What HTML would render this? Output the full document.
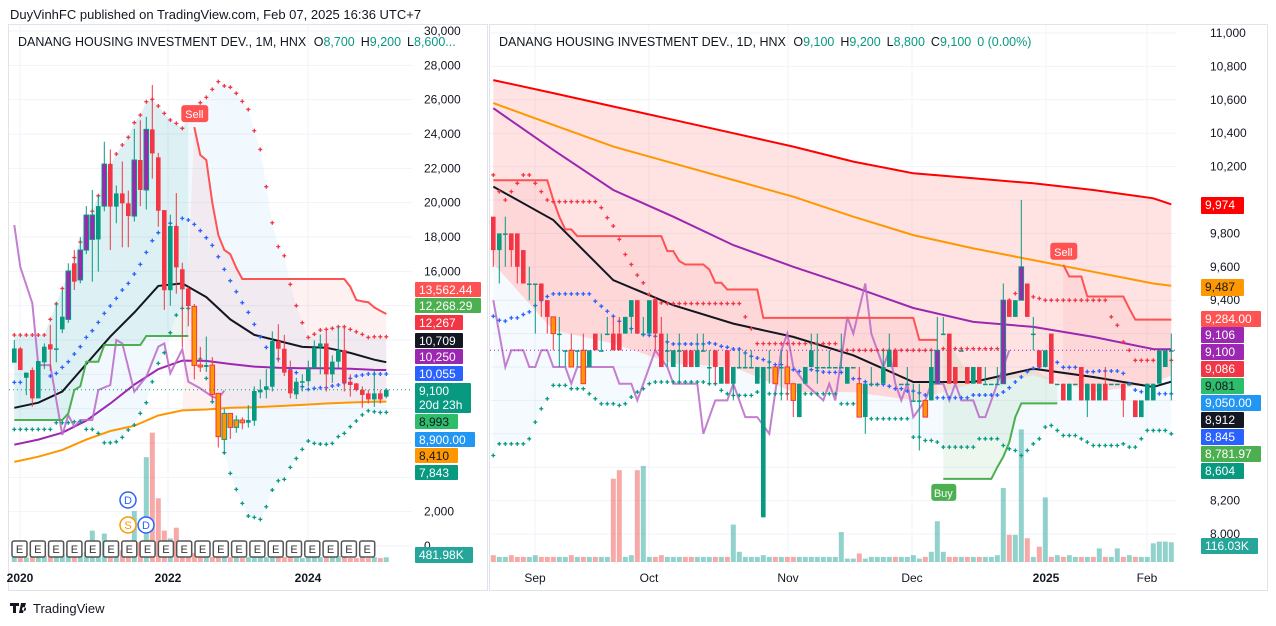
<!DOCTYPE html>
<html><head><meta charset="utf-8"><title>DANANG HOUSING INVESTMENT DEV. charts</title>
<style>
html,body{margin:0;padding:0;background:#fff;}
svg{display:block;font-family:"Liberation Sans",Arial,sans-serif;}
.ax{font-size:12px;fill:#131722;}
.lb{font-size:12px;fill:#fff;}
</style></head>
<body>
<svg id="root" width="1276" height="626" viewBox="0 0 1276 626" xmlns="http://www.w3.org/2000/svg">
<defs>
<clipPath id="clipL"><rect x="9" y="25" width="403" height="541"/></clipPath>
<clipPath id="clipR"><rect x="490" y="25" width="686" height="541"/></clipPath>
</defs>
<rect x="0" y="0" width="1276" height="626" fill="#ffffff"/>
<text x="10" y="19" font-size="13" fill="#131722">DuyVinhFC published on TradingView.com, Feb 07, 2025 16:36 UTC+7</text>
<rect x="8.5" y="24.5" width="479" height="566" fill="none" stroke="#e0e3eb"/>
<rect x="489.5" y="24.5" width="778" height="566" fill="none" stroke="#e0e3eb"/>
<g id="gridL"></g>
<g id="gridR"></g>
<g id="plotL" clip-path="url(#clipL)"></g>
<g id="plotR" clip-path="url(#clipR)"></g>
<g id="axisL"></g>
<g id="axisR"></g>

<text x="18" y="46" font-size="12.5" fill="#131722">DANANG HOUSING INVESTMENT DEV., 1M, HNX <tspan dx="4">O</tspan><tspan fill="#089981">8,700</tspan><tspan dx="6">H</tspan><tspan fill="#089981">9,200</tspan><tspan dx="6">L</tspan><tspan fill="#089981">8,600...</tspan></text>
<text x="499" y="46" font-size="12.5" fill="#131722">DANANG HOUSING INVESTMENT DEV., 1D, HNX <tspan dx="4">O</tspan><tspan fill="#089981">9,100</tspan><tspan dx="6">H</tspan><tspan fill="#089981">9,200</tspan><tspan dx="6">L</tspan><tspan fill="#089981">8,800</tspan><tspan dx="6">C</tspan><tspan fill="#089981">9,100</tspan><tspan dx="6" fill="#089981">0 (0.00%)</tspan></text>

<g>
<text class="ax" x="20" y="582" text-anchor="middle" font-weight="bold">2020</text>
<text class="ax" x="168" y="582" text-anchor="middle" font-weight="bold">2022</text>
<text class="ax" x="308" y="582" text-anchor="middle" font-weight="bold">2024</text>
</g>
<g>
<text class="ax" x="535" y="582" text-anchor="middle">Sep</text>
<text class="ax" x="649" y="582" text-anchor="middle">Oct</text>
<text class="ax" x="788" y="582" text-anchor="middle">Nov</text>
<text class="ax" x="912" y="582" text-anchor="middle">Dec</text>
<text class="ax" x="1046" y="582" text-anchor="middle" font-weight="bold">2025</text>
<text class="ax" x="1147" y="582" text-anchor="middle">Feb</text>
</g>

<g>
<path d="M10 603h9v3h-3v7h-3v-7h-3z M21 603l5 0-3 10h-4z M24 607a2 2 0 1 0 0.1 0z" fill="#131722"/>
<text x="33" y="613" font-size="13" fill="#131722">TradingView</text>
</g>
</svg>
<script>
// ===== LEFT (monthly) data =====
const lOpen=[10680,11510,9800,10250,8600,10700,11750,11510,12620,13200,16466,15500,17240,17860,17860,19800,22250,19770,20540,19960,19220,22485,20740,24270,22640,19570,14900,18640,16120,15000,13960,10540,10430,10540,8890,6210,7725,6910,7340,7180,7300,8950,9100,9280,11940,11490,10250,8830,9560,9600,10350,11570,11800,10000,10740,11420,9570,9470,9100,8890,8540,8890,8700];
const lClose=[11510,10250,10100,8600,10775,11610,11450,11510,13360,16020,15397,17240,19280,19280,19800,22250,19770,20540,19960,19220,22485,20740,24270,22870,19530,14900,18640,16230,14950,13980,10520,10430,10540,8830,6370,7725,6910,7340,7180,7340,9030,9100,9300,11940,11490,10100,8890,9570,9600,10350,11570,11800,10000,10740,11420,9510,9380,9090,8800,8540,8890,8540,9100];
const lHigh=[12000,11600,10100,10400,10775,11805,12880,14232,14900,16466,17242,18000,19800,20740,20400,23550,23100,21000,22400,20700,24300,24800,25000,26860,22900,19570,19300,20560,16500,15100,14100,11600,12200,11000,8900,8000,7725,7600,7500,8200,9300,9700,10300,12500,12920,12300,10800,9800,10000,10800,11970,12320,12500,11100,12800,12800,10000,9500,9300,9100,10200,9100,9200];
const lLow=[10680,10250,8790,8115,8600,10300,10200,10700,12400,13000,14912,15300,17000,15400,15980,19500,17240,18800,17400,17400,18900,19800,19600,21400,18600,13750,14000,14700,11600,12800,9700,10140,10150,8500,5740,5500,6240,6600,6800,6900,7000,8600,8600,9000,10700,9900,8600,8560,9000,9300,10300,10000,9000,9500,10400,9000,8700,9000,8060,8300,8100,8300,8600];
const lKind=['','','','','','','','','','p','','p','p','p','','p','','','','','p','','p','','','','','','','','o','o','','o','o','o','o','o','o','','','','','','','','','','','','','','','','','','','','','','','',''];
const lVolK=[600,500,450,700,500,600,800,500,700,900,800,900,1000,3200,900,2900,1000,900,1200,1500,5200,2000,10700,13200,6500,3200,2400,3500,900,800,900,700,600,500,700,600,500,500,400,500,700,600,500,700,600,500,500,400,400,500,600,500,600,500,600,500,400,400,500,400,500,400,482];
const lMaIdx=[0,4,8,12,16,20,24,28,32,36,40,44,48,52,56,60,62];
const lSma=[8050,8350,9000,10600,12200,13600,15150,15300,14500,13200,12300,11950,11600,11550,11250,10850,10709];
const lEma=[5900,6200,6600,7300,8300,9400,10300,10800,10780,10600,10450,10380,10360,10350,10320,10260,10250];
const lLong=[4900,5200,5600,6200,6700,7000,7600,7900,7950,8050,8080,8150,8220,8300,8360,8400,8410];
const lUpperDots=[12290,12290,12290,12290,12290,12290,13200,14100,15000,15900,16800,17700,18600,19500,20400,21300,22200,22835,23360,23806,24660,25100,25880,26020,25630,25200,24816,24620,24330,25000,25500,25825,26135,26600,27050,26800,26720,26370,25900,25430,24190,23100,20930,18830,17440,16910,15240,14000,13010,12150,12340,12580,12620,12680,12770,12770,12620,12480,12330,12150,12190,12190,12190];
const lMidDots=[9530,9530,null,null,null,null,9902,10056,10406,10736,11183,11610,12154,12542,13027,13552,13979,14426,14912,15300,15844,16407,17106,17786,18252,18740,18800,18600,19085,18990,18735,18368,17960,17514,16850,16115,15455,14815,14175,13610,12910,12190,11571,11200,10900,10600,10300,10100,9280,9125,9180,9220,9220,9320,9380,9500,9760,9900,9960,10020,10020,10020,10018];
const lLowerDots=[6794,6794,6794,6794,6794,6794,6794,7180,7180,7180,7240,7240,6794,6794,6560,6017,6017,6070,6330,6760,7050,7727,8348,9570,10640,11260,12426,13450,13843,13840,12000,10900,9765,8405,7000,5435,4230,3300,2482,1745,1670,1550,2288,3260,3800,3880,4580,5100,5630,6114,5980,5940,5920,5980,6370,6560,6950,7280,7640,7880,7820,7780,7785];
const lGreenStep=[7340,7340,7340,7340,7340,7340,7340,7340,7340,7727,9090,9300,10737,10737,10737,11708,11708,11708,11708,11708,11708,11708,12232,12232,12232,12232,12232,12232,12232,12232,null,null,null,null,null,null,null,null,null,null,null,null,null,null,null,null,null,null,null,null,null,null,null,null,null,null,null,null,null,null,null,null,null];
const lRedStep=[null,null,null,null,null,null,null,null,null,null,null,null,null,null,null,null,null,null,null,null,null,null,null,null,null,null,null,null,null,null,24400,22776,22485,20000,18116,17242,17000,16200,15552,15552,15552,15552,15552,15552,15552,15552,15552,15552,15552,15552,15552,15552,15552,15552,15552,15552,15100,14330,14250,14200,13900,13700,13513];
const lOscIdx=[0,1,3,4,6,8,9,10,11,13,14,16,17,18,20,22,24,25,26,28,29,31,33,34,35];
const lOscVal=[18700,16250,14150,10540,10540,6470,7630,6950,7340,7340,9090,9380,12000,11800,8990,9860,11610,11800,10060,11460,9570,9180,8700,8600,9050];
const lTicks=[30000,28000,26000,24000,22000,20000,18000,16000,2000,0];
const lTickText=['30,000','28,000','26,000','24,000','22,000','20,000','18,000','16,000','2,000','0'];

// ===== RIGHT (daily) data =====
const rOpen=[9900,9700,9800,9800,9800,9700,9500,9500,9500,9400,9300,9200,9100,9100,9100,9100,9000,9200,9100,9200,9200,9200,9200,9300,9400,9200,9200,9400,9200,9100,9000,9100,9100,9100,9000,9100,9000,9100,8900,9100,8900,9000,9000,9000,8900,8100,9000,9000,9000,9000,8900,8700,8900,9000,9000,9000,9000,9000,9000,8900,9000,8900,8700,8900,8900,8900,9000,9100,8900,8900,8800,8800,8800,8800,8900,9200,9200,9000,9100,9000,8900,9000,8900,8900,8900,8900,9400,9300,9400,9500,9200,9100,9000,9200,8900,8900,8800,8900,9000,8800,8900,8800,8900,8900,8900,8900,8900,8800,8700,8800,8800,8900,9000,9100];
const rClose=[9700,9800,9800,9700,9600,9500,9500,9500,9400,9300,9200,9200,9100,9000,9100,8900,9100,9100,9100,9200,9100,9100,9300,9400,9200,9200,9400,9200,9000,9100,9100,9100,9000,9000,9100,9100,9000,9000,9000,8900,9000,9000,9000,9000,9000,9000,9000,8900,9000,8900,8800,8900,9000,9100,9000,9000,9000,9000,9000,9000,9000,8700,8900,8900,8900,9000,9100,9000,8900,8900,8800,8800,8700,9000,9100,9200,8900,8900,9100,8900,9000,8900,8900,8900,8900,9400,9300,9400,9600,9300,9200,9000,9100,8900,8900,8800,8900,8900,8800,8900,8800,8900,8800,8900,8900,8800,8900,8700,8800,8900,8900,9100,9100,9100];
const rHigh=[9900,9800,9900,9800,9800,9700,9600,9500,9500,9400,9300,9300,9100,9200,9100,9200,9100,9200,9200,9300,9300,9300,9300,9400,9400,9300,9400,9400,9300,9200,9100,9200,9100,9100,9200,9200,9100,9100,9000,9100,9000,9100,9100,9100,9000,9000,9100,9000,9100,9100,8900,8900,9000,9200,9200,9000,9100,9000,9200,9000,9000,9000,8900,9000,8900,9100,9200,9100,8900,9000,8900,8900,8800,9100,9300,9300,9200,9000,9100,9000,9000,9000,9000,8900,9000,9500,9400,9400,10000,9500,9300,9100,9100,9200,8900,8900,8900,8900,9000,8900,8900,8900,9000,8900,8900,8900,8900,8800,8800,8900,8900,9100,9100,9200];
const rLow=[9600,9500,9600,9600,9500,9500,9400,9200,9300,9200,9100,9000,9000,9000,9000,8900,9000,9100,9100,9200,9100,9100,9200,9200,9200,9200,9200,9100,9000,9000,9000,8900,9000,9000,9000,9100,8900,8900,8900,8900,8800,9000,9000,9000,8900,8100,8900,8900,8800,8800,8700,8700,8900,9000,8900,9000,9000,9000,9000,8900,9000,8700,8600,8900,8900,8900,9000,9000,8900,8900,8800,8500,8700,8800,8900,9200,8900,8900,9100,8900,8900,8900,8900,8900,8900,8900,9300,9300,9400,9300,9100,9000,9000,8900,8900,8800,8800,8900,8800,8700,8800,8800,8800,8900,8900,8700,8900,8700,8700,8800,8800,8900,9000,8800];
const rKind=['','','','','','','','','','','o','','','o','','o','','','','','','','','','','','','','','','','','','','','','','','','','','','','','','','','o','','o','o','','','','','','','','','','','o','','','','','','','','','','','o','','p','','','','','','','','','','','p','','','p','','','','','','','','','','','','','','','','','','','','','','','','','','p',''];
const rVolK=[40,30,30,40,30,30,30,40,30,30,30,30,30,40,30,30,30,30,30,30,490,540,30,40,540,565,30,30,40,30,30,30,30,30,30,30,30,30,30,30,220,60,30,30,30,40,30,30,30,30,30,30,30,30,30,30,30,30,176,20,20,50,20,30,30,30,30,30,30,30,40,20,30,60,240,60,30,30,30,30,30,30,30,30,40,435,160,160,780,140,30,90,380,30,40,30,40,30,30,30,30,80,30,30,80,30,40,30,30,30,110,120,120,116];
const rMaIdx=[0,10,20,30,40,50,60,70,80,90,100,110,113];
const rMa200=[10718,10640,10560,10480,10400,10320,10230,10160,10130,10100,10060,10010,9974];
const rMa100=[10580,10450,10320,10220,10120,10020,9900,9790,9710,9640,9570,9500,9487];
const rEma=[10550,10300,10060,9900,9730,9600,9480,9353,9270,9240,9180,9107,9106];
const rSma=[10080,9880,9520,9370,9260,9180,9070,8910,8910,8990,8940,8880,8912];
const rBandLow=[9620,9220,9140,9020,9000,8850,8850,8800,8900,8950,8850,8900,8950];
const rUpperDots=[10150,10050,10000,10050,10100,10150,10150,10100,10050,10000,9990,9990,9990,9990,9990,9990,9990,9990,9954,9894,9844,9764,9674,9614,9550,9504,9434,9404,9384,9380,9380,9380,9380,9380,9380,9380,9380,9380,9380,9380,9380,9380,9300,9230,9140,9140,9140,9140,9140,9140,9140,9140,9140,9140,9140,9140,9140,9140,9100,9100,9100,9100,9100,9100,9100,9100,9100,9100,9100,9100,9100,9100,9100,9100,9040,9110,9110,9110,9110,9110,9110,9110,9110,9110,9110,9300,9400,9440,9440,9430,9420,9410,9400,9400,9400,9400,9400,9400,9400,9400,9400,9400,9400,9300,9250,9150,9100,9040,9040,9040,9040,9040,9040,9040];
const rMidDots=[9304,9280,9275,9294,9294,9314,9330,9368,9398,9422,9438,9438,9438,9438,9438,9438,9438,9394,9364,9334,9304,9274,9250,9230,9210,9194,9190,9184,9160,9150,9138,9138,9138,9138,9138,9138,9144,9138,9124,9118,9108,9108,9084,9064,9054,9044,9030,9014,9014,8998,8984,8974,8978,8984,8978,8970,8968,8968,8968,8942,8930,8930,8912,8895,8895,8895,8885,8870,8870,8856,8856,8845,8832,8812,8816,8816,8816,8816,8816,8816,8832,8832,8832,8832,8832,8850,8876,8910,8940,8972,8992,9000,9010,9020,9028,8998,8998,8998,8982,8972,8972,8976,8976,8976,8976,8962,8900,8862,8852,8840,8840,8840,8840,8840];
const rLowerDots=[8470,8540,8540,8540,8540,8540,8570,8670,8750,8810,8890,8890,8890,8870,8870,8870,8840,8810,8780,8780,8780,8770,8780,8820,8850,8870,8900,8910,8910,8910,8910,8910,8910,8910,8910,8910,8900,8900,8860,8840,8830,8830,8830,8830,8850,8850,8840,8840,8840,8840,8840,8840,8840,8840,8840,8840,8840,8840,8780,8780,8780,8780,8780,8690,8690,8690,8690,8690,8690,8690,8580,8580,8560,8560,8550,8520,8520,8520,8520,8520,8520,8570,8570,8570,8570,8530,8510,8500,8470,8500,8540,8570,8640,8650,8620,8590,8590,8590,8570,8550,8530,8530,8530,8530,8530,8540,8520,8520,8570,8620,8620,8620,8620,8600];
const rRedStep=[10118,10118,10118,10118,10118,10118,10118,10118,10118,10118,10000,9900,9824,9824,9784,9784,9784,9784,9784,9784,9784,9784,9784,9784,9784,9784,9784,9784,9784,9694,9694,9634,9614,9614,9614,9614,9584,9504,9504,9464,9464,9464,9464,9464,9464,9294,9294,9294,9294,9294,9294,9294,9294,9294,9294,9294,9294,9294,9294,9294,9294,9294,9294,9294,9294,9294,9294,9294,9294,9294,9294,9162,9162,9162,9162,null,null,null,null,null,null,null,null,null,null,null,null,null,null,null,null,null,null,null,null,9612,9542,9542,9542,9422,9422,9422,9422,9422,9422,9422,9350,9284,9284,9284,9284,9284,9284,9284];
const rGreenStep=[null,null,null,null,null,null,null,null,null,null,null,null,null,null,null,null,null,null,null,null,null,null,null,null,null,null,null,null,null,null,null,null,null,null,null,null,null,null,null,null,null,null,null,null,null,null,null,null,null,null,null,null,null,null,null,null,null,null,null,null,null,null,null,null,null,null,null,null,null,null,null,null,null,null,null,8330,8330,8330,8330,8330,8330,8330,8330,8330,8400,8462,8550,8700,8782,8782,8782,8782,8782,8782,8782,null,null,null,null,null,null,null,null,null,null,null,null,null,null,null,null,null,null,null];
const rOscIdx=[0,2,3,5,6,7,8,9,10,12,13,14,20,21,23,24,27,29,30,34,35,37,39,40,42,44,46,48,49,50,52,55,56,57,59,60,62,63,65,66,67,68,69,70,72,73,75,76,77,78,80,81,82,84,86];
const rOscVal=[9400,9000,9100,9100,9000,9000,9100,9100,9000,9000,8900,9000,9000,8900,8900,8800,9100,9000,8900,8900,8600,8800,8800,8900,8700,8700,8600,9100,9200,9000,8900,8800,8900,8800,9300,9200,9500,9200,9000,9100,8900,8800,8900,8700,8800,8900,8900,8800,8900,8800,8800,8700,8700,8900,9100];
const rTicks=[11000,10800,10600,10400,10200,9800,9600,9400,8200,8000];
const rTickText=['11,000','10,800','10,600','10,400','10,200','9,800','9,600','9,400','8,200','8,000'];
const lastPrice=9100;

// ===== scales =====
function yL(v){return 31+(30000-v)*0.017167;}
function xL(i){return 14.3+6*i;}
function yR(v){return 33+(11000-v)*0.167;}
function xR(i){return 493.3+6*i;}
const volBaseL=562, volScaleL=0.0098, volBaseR=562, volScaleR=0.17;

const NS='http://www.w3.org/2000/svg';
function mk(tag,attrs,parent){const e=document.createElementNS(NS,tag);for(const k in attrs)e.setAttribute(k,attrs[k]);parent.appendChild(e);return e;}

const gL=document.getElementById('plotL'), gR=document.getElementById('plotR');
const gridL=document.getElementById('gridL'), gridR=document.getElementById('gridR');
const axL=document.getElementById('axisL'), axR=document.getElementById('axisR');

// grids + tick labels
for(let v=0;v<=30000;v+=2000){
  const ln=mk('line',{x1:9,x2:412,y1:yL(v),y2:yL(v),stroke:'#f0f3fa','stroke-width':1},gridL);
  
  
}
[20,168,308].forEach(x=>{
  const ln=mk('line',{x1:x,x2:x,y1:25,y2:566,stroke:'#f0f3fa'},gridL);
  
  
});
for(let v=8000;v<=11000;v+=200){
  const ln=mk('line',{x1:490,x2:1176,y1:yR(v),y2:yR(v),stroke:'#f0f3fa'},gridR);
  
  
}
[535,649,788,912,1046,1147].forEach(x=>{
  const ln=mk('line',{x1:x,x2:x,y1:25,y2:566,stroke:'#f0f3fa'},gridR);
  
  
});
lTicks.forEach((v,j)=>{
  const t=mk('text',{x:424,y:yL(v)+4,class:'ax'},axL);t.textContent=lTickText[j];
  
  
});
rTicks.forEach((v,j)=>{
  const t=mk('text',{x:1210,y:yR(v)+4,class:'ax'},axR);t.textContent=rTickText[j];
  
  
});

// helpers
function pts(idx,val,xf,yf){const p=[];for(let j=0;j<idx.length;j++){if(val[j]!==null)p.push([xf(idx[j]),yf(val[j]),idx[j]]);}return p;}
function seriesPts(arr,xf,yf){const p=[];arr.forEach((v,i)=>{if(v!==null)p.push([xf(i),yf(v),i]);});return p;}
function segments(arr){const segs=[];let cur=null;arr.forEach((v,i)=>{if(v===null){cur=null;}else{if(!cur){cur=[];segs.push(cur);}cur.push(i);}});return segs;}
function lineD(p){return p.map((q,k)=>(k?'L':'M')+q[0].toFixed(1)+' '+q[1].toFixed(1)).join(' ');}
function polyFill(top,bot){return lineD(top.concat(bot.slice().reverse()))+' Z';}
function stepD(arr,xf,yf){let d='';segments(arr).forEach(s=>{s.forEach((i,k)=>{d+=(k?'L':'M')+xf(i).toFixed(1)+' '+yf(arr[i]).toFixed(1)+' ';});});return d;}

// ===== LEFT PANEL =====
// light blue band between upper and lower dots
{const top=seriesPts(lUpperDots,xL,yL), bot=seriesPts(lLowerDots,xL,yL);
 const f=mk('path',{d:polyFill(top,bot),fill:'rgba(33,150,243,0.06)'},gL);
 
 }
// green fill (uptrend)
segments(lGreenStep).forEach(s=>{
  const top=s.map(i=>[xL(i),yL(lUpperDots[i])]); const bot=s.map(i=>[xL(i),yL(lGreenStep[i])]);
  const f=mk('path',{d:polyFill(top,bot),fill:'rgba(8,153,129,0.09)'},gL);
  
  
});
// pink fill (downtrend)
segments(lRedStep).forEach(s=>{
  const top=s.map(i=>[xL(i),yL(lRedStep[i])]);
  const bot=pts(lMaIdx,lLong,xL,yL).filter(q=>q[2]>=s[0]-2&&q[2]<=s[s.length-1]);
  const f=mk('path',{d:polyFill(top,bot.map(q=>[q[0],q[1]])),fill:'rgba(242,54,69,0.07)'},gL);
  
  
});
// volume
lVolK.forEach((v,i)=>{
  const up=lClose[i]>=lOpen[i];
  const r=mk('rect',{x:xL(i)-2.5,y:volBaseL-v*volScaleL,width:5,height:v*volScaleL,fill:up?'rgba(38,166,154,0.5)':'rgba(239,83,80,0.5)'},gL);
  
  
});
// moving averages
[[lLong,'#ff9800','left-long-ma'],[lEma,'#9c27b0','left-ema'],[lSma,'#131722','left-sma']].forEach(([arr,col,nm])=>{
  const p=mk('path',{d:lineD(pts(lMaIdx,arr,xL,yL)),fill:'none',stroke:col,'stroke-width':2},gL);
  
  
});
{const p=mk('path',{d:lineD(pts(lOscIdx,lOscVal,xL,yL)),fill:'none',stroke:'rgba(186,104,200,0.85)','stroke-width':2},gL);
 
 }
{const p=mk('path',{d:stepD(lGreenStep,xL,yL),fill:'none',stroke:'#4caf50','stroke-width':2},gL);
 
 }
{const p=mk('path',{d:stepD(lRedStep,xL,yL),fill:'none',stroke:'#ff5252','stroke-width':2},gL);
 
 }
// dots
function drawDots(arr,xf,yf,color,g,nm){
  arr.forEach((v,i)=>{ if(v===null)return; const x=xf(i),y=yf(v);
    const d=mk('path',{d:`M${x-2} ${y}h4M${x} ${y-2}v4`,stroke:color,'stroke-width':1.3},g);
    
    
  });
}
drawDots(lUpperDots,xL,yL,'#f23645',gL,'left-upper-dot');
drawDots(lMidDots,xL,yL,'#2962ff',gL,'left-mid-dot');
drawDots(lLowerDots,xL,yL,'#089981',gL,'left-lower-dot');
// candles
function drawCandles(O,C,H,L,K,xf,yf,g,nm){
  O.forEach((o,i)=>{const c=C[i];const up=c>=o;const col=up?'#089981':'#f23645';
    const x=xf(i);
    const w=mk('line',{x1:x,x2:x,y1:yf(H[i]),y2:yf(L[i]),stroke:col,'stroke-width':1},g);
    
    
    let top=yf(Math.max(o,c)),bot=yf(Math.min(o,c));if(bot-top<1.5){bot=top+1.5;}
    let fill=col,stroke=col;
    if(K[i]==='p')fill='#9c27b0';
    if(K[i]==='o')fill='#ff9800';
    const b=mk('rect',{x:x-2.3,y:top,width:4.6,height:bot-top,fill:fill,stroke:stroke,'stroke-width':K[i]?1:0},g);
    
    
  });
}
drawCandles(lOpen,lClose,lHigh,lLow,lKind,xL,yL,gL,'left-candle');
// last price dotted line
{const l=mk('line',{x1:9,x2:412,y1:yL(lastPrice),y2:yL(lastPrice),stroke:'#089981','stroke-width':1,'stroke-dasharray':'1 3'},gL);
 
 }
// E markers
for(let k=0;k<20;k++){
  const x=12+k*18.3;
  const r=mk('rect',{x:x,y:541,width:15,height:16,rx:2,fill:'#fff',stroke:'#555','stroke-width':1.5},gL);
  
  
  const t=mk('text',{x:x+7.5,y:553,'text-anchor':'middle','font-size':11,fill:'#333'},gL);t.textContent='E';
  
  
}
// dividend/split markers
[[128,500,'D','#2962ff'],[128,525,'S','#ff9800'],[146,525,'D','#2962ff']].forEach(([x,y,s,c])=>{
  const ci=mk('circle',{cx:x,cy:y,r:8,fill:'#fff',stroke:c,'stroke-width':1.5},gL);
  
  
  const t=mk('text',{x:x,y:y+4,'text-anchor':'middle','font-size':11,fill:c},gL);t.textContent=s;
  
  
});
// Sell label left
{const x=xL(30),y=yL(lRedStep[30]);
 const r=mk('rect',{x:x-13,y:y-22,width:27,height:17,rx:3,fill:'#ff5252'},gL);
 
 
 const t=mk('text',{x:x,y:y-9,'text-anchor':'middle','font-size':11,fill:'#fff'},gL);t.textContent='Sell';
 
 }

// ===== RIGHT PANEL =====
{const top=pts(rMaIdx,rMa200,xR,yR), bot=pts(rMaIdx,rBandLow,xR,yR);
 const f=mk('path',{d:polyFill(top,bot),fill:'rgba(255,82,82,0.16)'},gR);
 
 }
{const top=pts(rMaIdx,rBandLow,xR,yR), bot=seriesPts(rLowerDots,xR,yR);
 const f=mk('path',{d:polyFill(top,bot),fill:'rgba(33,150,243,0.05)'},gR);
 
 }
segments(rRedStep).forEach(s=>{
  const top=s.map(i=>[xR(i),yR(rRedStep[i])]);
  const bot=pts(rMaIdx,rBandLow,xR,yR).filter(q=>q[2]>=s[0]&&q[2]<=s[s.length-1]);
  bot.unshift([xR(s[0]),yR(rBandLow[Math.floor(s[0]/10)]||rBandLow[0])]);
  bot.push([xR(s[s.length-1]),yR(rBandLow[Math.min(rBandLow.length-1,Math.round(s[s.length-1]/10))])]);
  const f=mk('path',{d:polyFill(top,bot.map(q=>[q[0],q[1]])),fill:'rgba(242,54,69,0.07)'},gR);
  
  
});
segments(rGreenStep).forEach(s=>{
  const bot=s.map(i=>[xR(i),yR(rGreenStep[i])]);
  const top=[[xR(s[0]),yR(rClose[s[0]])]].concat(pts(rMaIdx,rSma,xR,yR).filter(q=>q[2]>s[0]&&q[2]<s[s.length-1]).map(q=>[q[0],q[1]]),[[xR(s[s.length-1]),yR(rClose[s[s.length-1]])]]);
  const f=mk('path',{d:polyFill(top,bot),fill:'rgba(76,175,80,0.1)'},gR);
  
  
});
rVolK.forEach((v,i)=>{
  const up=rClose[i]>=rOpen[i];
  const r=mk('rect',{x:xR(i)-2.5,y:volBaseR-v*volScaleR,width:5,height:v*volScaleR,fill:up?'rgba(38,166,154,0.5)':'rgba(239,83,80,0.5)'},gR);
  
  
});
[[rMa200,'#ff0000','right-ma-200'],[rMa100,'#ff9800','right-ma-100'],[rEma,'#9c27b0','right-ema'],[rSma,'#131722','right-sma']].forEach(([arr,col,nm])=>{
  const p=mk('path',{d:lineD(pts(rMaIdx,arr,xR,yR)),fill:'none',stroke:col,'stroke-width':2},gR);
  
  
});
{const p=mk('path',{d:lineD(pts(rOscIdx,rOscVal,xR,yR)),fill:'none',stroke:'rgba(186,104,200,0.85)','stroke-width':2},gR);
 
 }
{const p=mk('path',{d:stepD(rRedStep,xR,yR),fill:'none',stroke:'#ff5252','stroke-width':2},gR);
 
 }
{const p=mk('path',{d:stepD(rGreenStep,xR,yR),fill:'none',stroke:'#4caf50','stroke-width':2},gR);
 
 }
drawDots(rUpperDots,xR,yR,'#f23645',gR,'right-upper-dot');
drawDots(rMidDots,xR,yR,'#2962ff',gR,'right-mid-dot');
drawDots(rLowerDots,xR,yR,'#089981',gR,'right-lower-dot');
drawCandles(rOpen,rClose,rHigh,rLow,rKind,xR,yR,gR,'right-candle');
{const l=mk('line',{x1:490,x2:1176,y1:yR(lastPrice),y2:yR(lastPrice),stroke:'#9c27b0','stroke-width':1,'stroke-dasharray':'1 3'},gR);
 
 }
{const x=xR(95),y=yR(rRedStep[95]);
 const r=mk('rect',{x:x-13,y:y-22,width:27,height:17,rx:3,fill:'#ff5252'},gR);
 
 
 const t=mk('text',{x:x,y:y-9,'text-anchor':'middle','font-size':11,fill:'#fff'},gR);t.textContent='Sell';
 
 }
{const x=xR(75),y=yR(rGreenStep[75]);
 const r=mk('rect',{x:x-12,y:y+5,width:25,height:17,rx:3,fill:'#4caf50'},gR);
 
 
 const t=mk('text',{x:x,y:y+18,'text-anchor':'middle','font-size':11,fill:'#fff'},gR);t.textContent='Buy';
 
 }

// ===== price axis badges =====
function badge(g,x,y,w,h,bg,fg,txt,nm,txt2){
  const r=mk('rect',{x:x,y:y,width:w,height:h,rx:1,fill:bg},g);
  
  
  const t=mk('text',{x:x+4,y:y+12,'font-size':12,fill:fg},g);t.textContent=txt;
  
  
  if(txt2){const t2=mk('text',{x:x+4,y:y+26,'font-size':12,fill:fg},g);t2.textContent=txt2;
    
    }
}
badge(axL,415,282,66,15,'#ff5252','#fff','13,562.44','badge-left-resistance');
badge(axL,415,298,66,15,'#4caf50','#fff','12,268.29','badge-left-support');
badge(axL,415,315,48,15,'#f23645','#fff','12,267','badge-left-upper-band');
badge(axL,415,333,48,15,'#131722','#fff','10,709','badge-left-sma');
badge(axL,415,349,48,15,'#9c27b0','#fff','10,250','badge-left-ema');
badge(axL,415,366,48,15,'#2962ff','#fff','10,055','badge-left-mid-band');
badge(axL,415,383,56,30,'#089981','#fff','9,100','badge-left-last-price','20d 23h');
badge(axL,415,414,43,15,'#2ebd6b','#131722','8,993','badge-left-oscillator');
badge(axL,415,432,60,15,'#2196f3','#fff','8,900.00','badge-left-level');
badge(axL,415,448,43,15,'#ff9800','#131722','8,410','badge-left-long-ma');
badge(axL,415,465,43,15,'#089981','#fff','7,843','badge-left-lower-band');
badge(axL,415,547,58,16,'#26a69a','#fff','481.98K','badge-left-volume');

badge(axR,1201,197,43,17,'#ff0000','#fff','9,974','badge-right-ma-200');
badge(axR,1201,279,43,17,'#ff9800','#131722','9,487','badge-right-ma-100');
badge(axR,1201,311,60,16,'#ff5252','#fff','9,284.00','badge-right-resistance');
badge(axR,1201,327,43,16,'#9c27b0','#fff','9,106','badge-right-ema');
badge(axR,1201,344,43,16,'#9c27b0','#fff','9,100','badge-right-last-price');
badge(axR,1201,361,43,16,'#f23645','#fff','9,086','badge-right-upper-band');
badge(axR,1201,378,43,16,'#2ebd6b','#131722','9,081','badge-right-oscillator');
badge(axR,1201,395,60,16,'#2196f3','#fff','9,050.00','badge-right-level');
badge(axR,1201,412,43,16,'#131722','#fff','8,912','badge-right-sma');
badge(axR,1201,429,43,16,'#2962ff','#fff','8,845','badge-right-mid-band');
badge(axR,1201,446,60,16,'#4caf50','#fff','8,781.97','badge-right-support');
badge(axR,1201,463,43,16,'#089981','#fff','8,604','badge-right-lower-band');
badge(axR,1201,538,57,16,'#26a69a','#fff','116.03K','badge-right-volume');
</script>
</body></html>
